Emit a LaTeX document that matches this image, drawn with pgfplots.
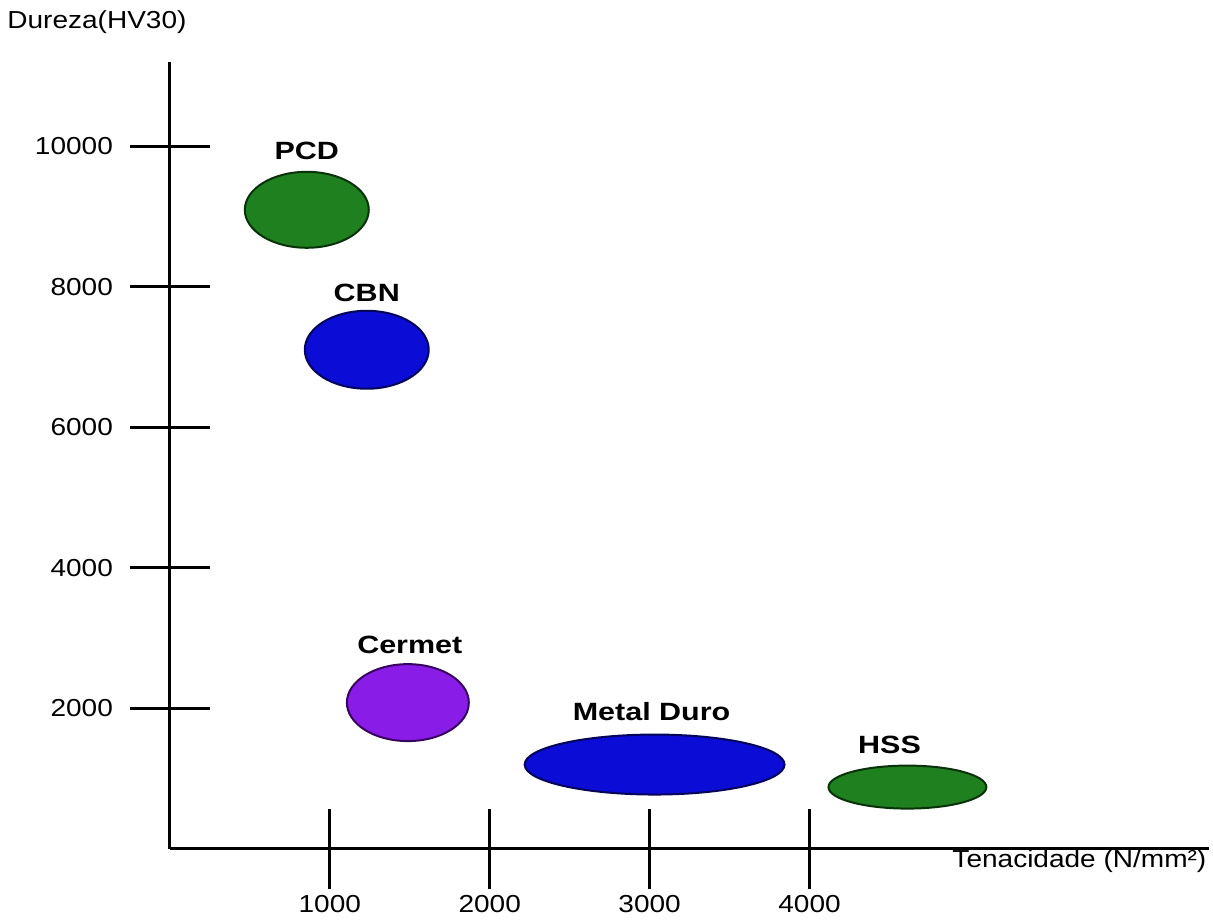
\documentclass[border=0pt]{standalone}
\usepackage{pgfplots}
\pgfplotsset{compat=1.18}
\usepackage{graphicx}
\usepackage{fontspec}
\setmainfont{Liberation Sans}
\definecolor{mgreen}{RGB}{30,128,30}
\definecolor{mgreenE}{RGB}{10,50,10}
\definecolor{mblue}{RGB}{12,12,215}
\definecolor{mblueE}{RGB}{5,5,90}
\definecolor{mpurple}{RGB}{138,28,232}
\definecolor{mpurpleE}{RGB}{55,5,95}
\newcommand\sx[1]{\scalebox{1.14}[1]{#1}}
\newcommand\bx[1]{\scalebox{1.22}[1]{\bfseries #1}}
\begin{document}
\begin{tikzpicture}
\begin{axis}[
  at={(0,0)}, anchor=origin,
  x=0.08pt, y=0.035125pt,
  xmin=0, xmax=6500, ymin=0, ymax=11200,
  axis x line=bottom, axis y line=left,
  axis line style={-, line width=1.5pt},
  tick align=center,
  major tick length=40pt,
  every tick/.style={black, line width=1.5pt},
  scaled x ticks=false, scaled y ticks=false,
  xtick={1000,2000,3000,4000},
  xticklabels={\sx{1000},\sx{2000},\sx{3000},\sx{4000}},
  ytick={2000,4000,6000,8000,10000},
  yticklabels={\sx{2000},\sx{4000},\sx{6000},\sx{8000},\sx{10000}},
  ticklabel style={font=\fontsize{12.3}{14}\selectfont},
  yticklabel style={xshift=-5pt},
  clip=false,
]
% PCD
\addplot[only marks, mark=*, mark size=19pt,
  mark options={xscale=1.632, fill=mgreen, draw=mgreenE, line width=1pt}]
  coordinates {(856,9096)};
% CBN
\addplot[only marks, mark=*, mark size=19.5pt,
  mark options={xscale=1.590, fill=mblue, draw=mblueE, line width=1pt}]
  coordinates {(1231,7103)};
% Cermet
\addplot[only marks, mark=*, mark size=19.25pt,
  mark options={xscale=1.584, fill=mpurple, draw=mpurpleE, line width=1pt}]
  coordinates {(1488,2078)};
% Metal Duro
\addplot[only marks, mark=*, mark size=15pt,
  mark options={xscale=4.333, fill=mblue, draw=mblueE, line width=1pt}]
  coordinates {(3031,1196)};
% HSS
\addplot[only marks, mark=*, mark size=10.75pt,
  mark options={xscale=3.674, fill=mgreen, draw=mgreenE, line width=1pt}]
  coordinates {(4612,875)};
\begin{scope}[every node/.style={font=\fontsize{12.5}{14}\selectfont}]
\node at (axis cs:856,9936) {\bx{PCD}};
\node at (axis cs:1231,7915) {\bx{CBN}};
\node at (axis cs:1500,2904) {\bx{Cermet}};
\node at (axis cs:3012,1950) {\bx{Metal Duro}};
\node at (axis cs:4500,1480) {\bx{HSS}};
\end{scope}
\end{axis}
\node[font=\fontsize{12.3}{14}\selectfont] at (-36.5pt,413.5pt) {\sx{Dureza(HV30)}};
\node[font=\fontsize{12.3}{14}\selectfont] at (455pt,-6.5pt) {\sx{Tenacidade (N/mm²)}};
\path[use as bounding box] (-85pt,-33.5pt) rectangle (521.5pt,424.5pt);
\end{tikzpicture}
\end{document}
